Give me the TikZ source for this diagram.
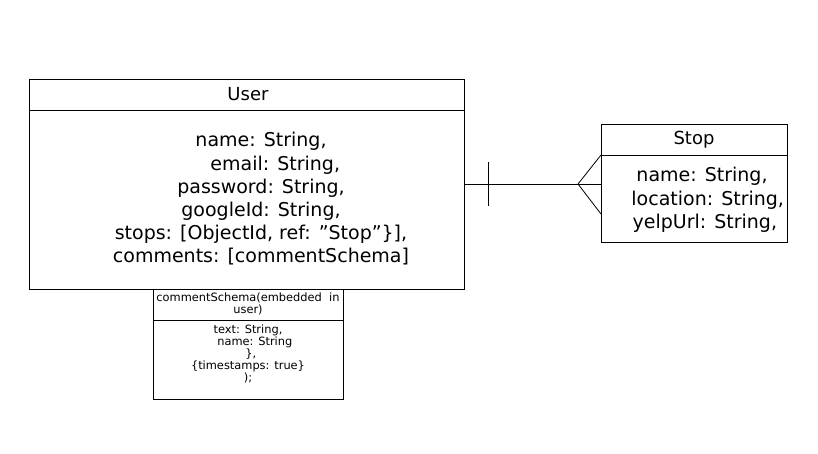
\documentclass[tikz,border=0pt]{standalone}
\usepackage{fontspec}
\setmainfont{DejaVu Sans}[Ligatures=NoCommon]
\usetikzlibrary{positioning,calc}

\begin{document}
\begin{tikzpicture}[x=1pt, y=-1pt,
    box/.style={draw, thick, inner sep=0pt},
    title/.style={font=\fontsize{18}{20}\selectfont, anchor=center},
    field/.style={align=center, font=\fontsize{19}{23.2}\selectfont},
    small/.style={align=center, font=\fontsize{11.4}{12.2}\selectfont},
    link/.style={thick}
]
    \useasboundingbox (0,0) rectangle (818,454);

    % User entity
    \draw[box] (29,79) rectangle (464,289);
    \draw[thick] (29,110) -- (464,110);
    \node[title] (user) at (248,94) {User};
    \node[field] (userfields) at (261,199) {name: String,\\\hspace{1.5em}email: String,\\password: String,\\googleId: String,\\stops: [ObjectId, ref: \char34 Stop\char34\}],\\comments: [commentSchema]};
    \coordinate (usereast) at (464,184);

    % Embedded comment schema
    \draw[box, fill=white] (153,289) rectangle (343,399);
    \draw[thick] (153,320) -- (343,320);
    \node[small] (comment) at (248,304) {commentSchema(embedded\ \ in\\user)};
    \node[small, anchor=north] (commentfields) at (248,321) {text: String,\\\hspace{1.2em}name: String\\\hspace{0.5em}\},\\\{timestamps: true\}\\);};

    % Stop entity
    \draw[box] (601,124) rectangle (787,242);
    \draw[thick] (601,155) -- (787,155);
    \node[title] (stop) at (694,140) {Stop};
    \node[field, font=\fontsize{19}{23.5}\selectfont] (stopfields) at (702,200) {name: String,\hspace{1em}\\\hspace{0.6em}location: String,\\\hspace{0.3em}yelpUrl: String,};
    \coordinate (stopwest) at (601,184);

    % One-to-many relation
    \coordinate (foot) at (578,184);
    \draw[link] (usereast) -- (stopwest);
    \draw[link] (488,162) -- (488,206);
    \draw[link] (601,155) -- (foot) -- (601,214);
\end{tikzpicture}
\end{document}
